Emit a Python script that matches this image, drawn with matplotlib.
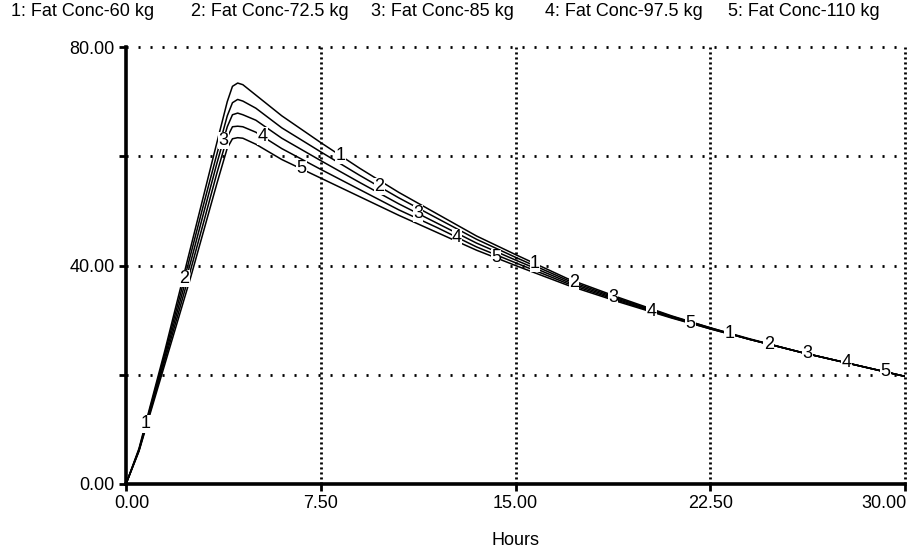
import matplotlib
matplotlib.use("Agg")
import matplotlib.pyplot as plt
import matplotlib.transforms as mtransforms
import numpy as np

plt.rcParams['font.family'] = ['Liberation Sans', 'DejaVu Sans']

# hours
hours = [0, 0.5, 1, 1.5, 2, 2.5, 3, 3.5, 3.9, 4.1, 4.3, 4.5, 5, 6, 7.5, 9, 10.5,
         12, 13.5, 15, 17, 19, 21, 22.5, 24, 26, 28, 30]

# fat concentration, one list per run
conc_60 = [0, 6.5, 15.5, 24.5, 34.0, 43.5, 53.0, 62.5, 70.0, 72.8, 73.4, 73.1, 71.2,
           67.4, 62.5, 57.8, 53.4, 49.4, 45.4, 42.0, 37.6, 34.1, 30.8, 28.6, 26.6,
           24.1, 21.9, 19.7]
conc_72 = [0, 6.3, 15.1, 23.9, 33.0, 42.2, 51.4, 60.4, 67.4, 69.8, 70.4, 70.1, 68.8,
           65.2, 60.8, 56.5, 52.4, 48.6, 44.8, 41.5, 37.3, 33.9, 30.7, 28.6, 26.5,
           24.1, 21.9, 19.7]
conc_85 = [0, 6.2, 14.7, 23.3, 32.0, 40.8, 49.8, 58.7, 65.4, 67.6, 67.9, 67.6, 66.6,
           63.3, 59.2, 55.2, 51.3, 47.7, 44.1, 41.0, 37.0, 33.7, 30.6, 28.5, 26.5,
           24.1, 21.9, 19.7]
conc_97 = [0, 6.1, 14.4, 22.7, 31.0, 39.4, 48.1, 56.9, 63.5, 65.4, 65.5, 65.4, 64.4,
           61.4, 57.6, 53.9, 50.2, 46.9, 43.4, 40.5, 36.7, 33.5, 30.5, 28.4, 26.5,
           24.1, 21.9, 19.7]
conc_110 = [0, 6.0, 14.0, 22.0, 30.0, 38.0, 46.5, 55.0, 61.5, 63.2, 63.4, 63.3, 62.2,
            59.4, 56.0, 52.6, 49.2, 46.0, 42.8, 40.0, 36.4, 33.3, 30.4, 28.4, 26.5,
            24.1, 21.9, 19.7]

series = [conc_60, conc_72, conc_85, conc_97, conc_110]
legend_labels = ["1: Fat Conc-60 kg", "2: Fat Conc-72.5 kg", "3: Fat Conc-85 kg",
                 "4: Fat Conc-97.5 kg", "5: Fat Conc-110 kg"]
legend_x = [11, 191, 371, 545, 728]

fig = plt.figure(figsize=(9.14, 5.52), dpi=100)
ax = fig.add_axes([126 / 914, 1 - 484 / 552, (905 - 126) / 914, (484 - 47) / 552])

ax.set_xlim(0, 30)
ax.set_ylim(0, 80)

# dotted grid, STELLA style
for yv in [20, 40, 60, 80]:
    ax.axhline(yv, color='black', lw=2, linestyle=(0, (0.75, 3.57)),
               dash_capstyle='butt', zorder=1, clip_on=False)
for xv in [7.5, 15, 22.5, 30]:
    ax.axvline(xv, color='black', lw=2, linestyle=(0, (0.75, 1.05)),
               dash_capstyle='butt', zorder=1, clip_on=False)

for k, ys in enumerate(series):
    ax.plot(hours, ys, color='black', lw=1.1, zorder=2)
    # number labels sit along each curve every 7.5 h
    for t in np.arange(0.75 + 1.5 * k, 30, 7.5):
        ax.text(t, np.interp(t, hours, ys), str(k + 1), fontsize=13,
                ha='center', va='center', zorder=3,
                bbox=dict(facecolor='white', edgecolor='none', pad=0.3))

for s in ['top', 'right']:
    ax.spines[s].set_visible(False)
for s in ['left', 'bottom']:
    ax.spines[s].set_linewidth(2.6)
    ax.spines[s].set_zorder(4)

ax.set_yticks([0, 20, 40, 60, 80])
ax.set_yticklabels(['0.00', '', '40.00', '', '80.00'])
ax.set_xticks([0, 7.5, 15, 22.5, 30])
ax.set_xticklabels(['0.00', '7.50', '15.00', '22.50', '30.00'])
ax.tick_params(axis='both', direction='out', length=5, width=2, labelsize=13,
               color='black', pad=3)
xlabels = ax.get_xticklabels()
xlabels[0].set_transform(xlabels[0].get_transform() +
                         mtransforms.ScaledTranslation(6 / 100, 0, fig.dpi_scale_trans))
xlabels[-1].set_horizontalalignment('right')
xlabels[-1].set_transform(xlabels[-1].get_transform() +
                          mtransforms.ScaledTranslation(2 / 100, 0, fig.dpi_scale_trans))
ax.set_xlabel('Hours', fontsize=13, labelpad=14)

for x, lab in zip(legend_x, legend_labels):
    fig.text(x / 914, 1 - 12 / 552, lab, fontsize=13, ha='left', va='center')

fig.savefig('out.png', dpi=100)
